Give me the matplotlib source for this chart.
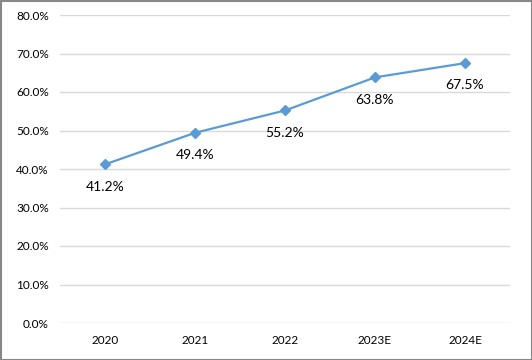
import matplotlib
matplotlib.use("Agg")
import matplotlib.pyplot as plt
from matplotlib.ticker import FuncFormatter

categories = ["2020", "2021", "2022", "2023E", "2024E"]
values = [41.2, 49.4, 55.2, 63.8, 67.5]
labels = ["41.2%", "49.4%", "55.2%", "63.8%", "67.5%"]

plt.rcParams['font.family'] = ['Lato', 'DejaVu Sans']

fig = plt.figure(figsize=(5.32, 3.6), dpi=100)
ax = fig.add_axes([60/532, 1-323/360, 450/532, 308/360])

x = list(range(len(categories)))
ax.plot(x, values, color="#5B9BD5", lw=1.6, marker="D", ms=5.5, mfc="#5B9BD5", mec="#5B9BD5", zorder=3)
for xi, v, lab in zip(x, values, labels):
    ax.annotate(lab, (xi, v), xytext=(0, -16), textcoords="offset points",
                ha="center", va="center", fontsize=10, color="#000000")

ax.set_xlim(-0.5, len(categories)-0.5)
ax.set_ylim(0, 80)
ax.set_yticks(range(0, 81, 10))
ax.yaxis.set_major_formatter(FuncFormatter(lambda v, p: f"{v:.1f}%"))
ax.set_xticks(x)
ax.set_xticklabels(categories)
ax.tick_params(axis="both", length=0, labelsize=8.5, colors="#000000")
ax.tick_params(axis="y", pad=8)
ax.tick_params(axis="x", pad=9)
ax.grid(axis="y", color="#D9D9D9", lw=1)
ax.set_axisbelow(True)
for s in ax.spines.values():
    s.set_visible(False)

fig.patches.append(plt.Rectangle((0.5/532, 0.5/360), 531/532, 359/360, transform=fig.transFigure,
                                 fill=False, edgecolor="#878787", lw=1.5))
fig.savefig("out.png", dpi=100)
